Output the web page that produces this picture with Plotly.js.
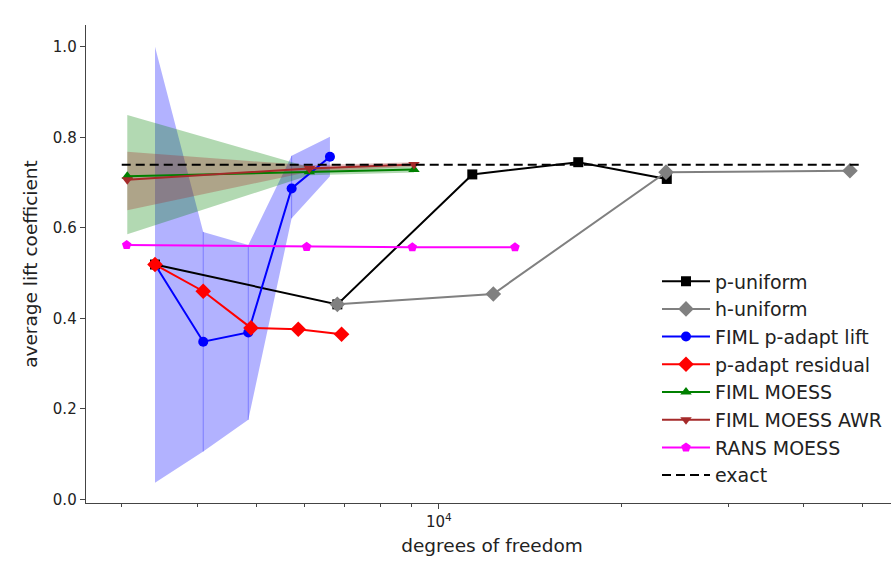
<!DOCTYPE html>
<html><head><meta charset="utf-8">
<script src="https://cdn.plot.ly/plotly-3.0.1.min.js"></script>
<style>html,body{margin:0;padding:0;overflow:hidden;background:#fff}</style>
</head><body><div id="chart" style="width:898px;height:573px"></div>
<script>
// ---- data ----
const pUniX = [3404, 6803, 11357, 16983, 23768];
const pUniY = [0.519, 0.431, 0.718, 0.745, 0.708];

const hUniX = [6803, 12300, 23700, 47650];
const hUniY = [0.431, 0.454, 0.723, 0.726];

const liftX  = [3404, 4088, 4851, 5719, 6615];
const liftY  = [0.519, 0.3485, 0.369, 0.687, 0.757];
const liftLo = [0.037, 0.106, 0.176, 0.621, 0.714];
const liftHi = [1.0, 0.591, 0.562, 0.759, 0.801];

const resX = [3404, 4088, 4901, 5865, 6913];
const resY = [0.519, 0.460, 0.379, 0.376, 0.365];

const moessX  = [3064, 6117, 9101];
const moessY  = [0.714, 0.724, 0.729];
const moessLo = [0.586, 0.716, 0.722];
const moessHi = [0.849, 0.734, 0.736];

const awrX  = [3064, 6117, 9101];
const awrY  = [0.706, 0.731, 0.740];
const awrLo = [0.639, 0.724, 0.735];
const awrHi = [0.768, 0.738, 0.745];

const ransX = [3057, 6055, 9044, 13355];
const ransY = [0.562, 0.558, 0.557, 0.557];

const exactX = [3000, 50000];
const exactY = [0.7395, 0.7395];

const xMajorTicks = [10000];
const xMajorText = ['10<sup>4</sup>'];
const xMinorTicks = [3000, 4000, 5000, 6000, 7000, 8000, 9000, 20000, 30000, 40000, 50000];
const yTicks = [0.0, 0.2, 0.4, 0.6, 0.8, 1.0];

// ---- helpers ----
function band(x, lo, hi, color) {
  return {
    x: x.concat(x.slice().reverse()),
    y: hi.concat(lo.slice().reverse()),
    type: 'scatter', mode: 'lines', fill: 'toself',
    fillcolor: color, line: {width: 0}, hoverinfo: 'skip', showlegend: false
  };
}
function edges(x, lo, hi, color) {
  const xs = [], ys = [];
  for (let i = 1; i < x.length - 1; i++) {
    xs.push(x[i], x[i], null); ys.push(lo[i], hi[i], null);
  }
  return {x: xs, y: ys, type: 'scatter', mode: 'lines',
    line: {color: color, width: 1}, hoverinfo: 'skip', showlegend: false};
}
function series(name, x, y, color, symbol, size) {
  return {x: x, y: y, name: name, type: 'scatter', mode: 'lines+markers',
    line: {color: color, width: 2},
    marker: {color: color, symbol: symbol, size: size}};
}

const traces = [
  band(liftX, liftLo, liftHi, 'rgba(0,0,255,0.3)'),
  edges(liftX, liftLo, liftHi, 'rgba(0,0,255,0.3)'),
  band(moessX, moessLo, moessHi, 'rgba(0,128,0,0.3)'),
  band(awrX, awrLo, awrHi, 'rgba(165,42,42,0.3)'),
  series('p-uniform', pUniX, pUniY, '#000000', 'square', 10),
  series('h-uniform', hUniX, hUniY, '#808080', 'diamond', 12),
  series('FIML p-adapt lift', liftX, liftY, '#0000ff', 'circle', 10),
  series('p-adapt residual', resX, resY, '#ff0000', 'diamond', 12),
  series('FIML MOESS', moessX, moessY, '#008000', 'triangle-up', 10),
  series('FIML MOESS AWR', awrX, awrY, '#a52a2a', 'triangle-down', 10),
  series('RANS MOESS', ransX, ransY, '#ff00ff', 'pentagon', 10),
  {x: exactX, y: exactY, name: 'exact', type: 'scatter', mode: 'lines',
   line: {color: '#000000', width: 2, dash: '9px,5px'}}
];

const axisColor = '#444';
const layout = {
  width: 898, height: 573,
  margin: {l: 86, r: 0, t: 25, b: 70},
  paper_bgcolor: '#fff', plot_bgcolor: '#fff',
  font: {family: 'DejaVu Sans', color: '#222'},
  showlegend: true,
  xaxis: {
    type: 'log', range: [3.4182, 4.7573],
    showgrid: false, zeroline: false,
    showline: true, linecolor: axisColor, linewidth: 1.3,
    ticks: 'outside', ticklen: 5, tickcolor: axisColor,
    tickmode: 'array', tickvals: xMajorTicks, ticktext: xMajorText,
    tickfont: {size: 15, family: 'DejaVu Sans', color: '#222'},
    minor: {tickmode: 'array', tickvals: xMinorTicks, ticks: 'outside', ticklen: 3, tickcolor: axisColor, showgrid: false},
    title: {text: 'degrees of freedom', font: {size: 18.5, family: 'DejaVu Sans', color: '#222'}, standoff: 8}
  },
  yaxis: {
    range: [-0.0077, 1.048],
    showgrid: false, zeroline: false,
    showline: true, linecolor: axisColor, linewidth: 1.3,
    ticks: 'outside', ticklen: 5, tickcolor: axisColor,
    tickmode: 'array', tickvals: yTicks, tickformat: '.1f',
    tickfont: {size: 15, family: 'DejaVu Sans', color: '#222'},
    title: {text: 'average lift coefficient', font: {size: 18.5, family: 'DejaVu Sans', color: '#222'}, standoff: 10}
  },
  legend: {
    x: 0.7032, y: 0.5035, xanchor: 'left', yanchor: 'top',
    bgcolor: 'rgba(0,0,0,0)', borderwidth: 0,
    font: {size: 19, family: 'DejaVu Sans', color: '#222'},
    itemwidth: 48
  }
};

Plotly.newPlot('chart', traces, layout, {displayModeBar: false, staticPlot: true});
</script></body></html>
